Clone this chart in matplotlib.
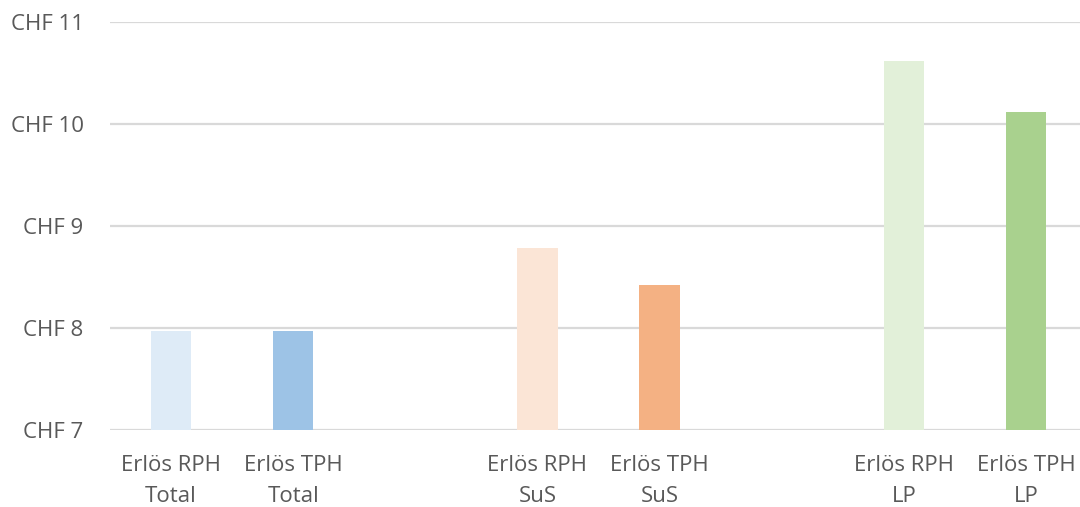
import numpy as np
import matplotlib.pyplot as plt

plt.rcParams['font.family'] = ['Open Sans', 'DejaVu Sans']

# Kategorien (leere Plätze trennen die Gruppen)
labels = ['Erlös RPH\nTotal', 'Erlös TPH\nTotal', '',
          'Erlös RPH\nSuS', 'Erlös TPH\nSuS', '',
          'Erlös RPH\nLP', 'Erlös TPH\nLP']
values = [7.97, 7.97, np.nan, 8.78, 8.42, np.nan, 10.62, 10.12]
colors = ['#DEEBF7', '#9DC3E6', 'white', '#FBE5D6', '#F4B183', 'white',
          '#E2F0D9', '#A9D18E']
yticks = [7, 8, 9, 10, 11]

fig = plt.figure(figsize=(10.8, 5.07), dpi=100)
ax = fig.add_axes([110/1080, 1-430/507, 977/1080, 408/507])

x = np.arange(len(labels))
base = 7
heights = [v - base for v in values]
ax.bar(x, heights, bottom=base, width=0.33, color=colors, zorder=2)

ax.set_xlim(-0.5, len(labels) - 0.5)
ax.set_ylim(7, 11)
ax.set_yticks(yticks)
ax.set_yticklabels(['CHF %d' % t for t in yticks])
ax.set_xticks([i for i in x if labels[i]])
ax.set_xticklabels([l for l in labels if l], linespacing=1.62)

ax.grid(axis='y', color='#D9D9D9', linewidth=1.6, zorder=1)
for s in ax.spines.values():
    s.set_visible(False)
ax.tick_params(length=0, labelsize=16, colors='#595959')
ax.tick_params(axis='y', pad=19)
ax.tick_params(axis='x', pad=18)

fig.savefig('out.png', dpi=100)
